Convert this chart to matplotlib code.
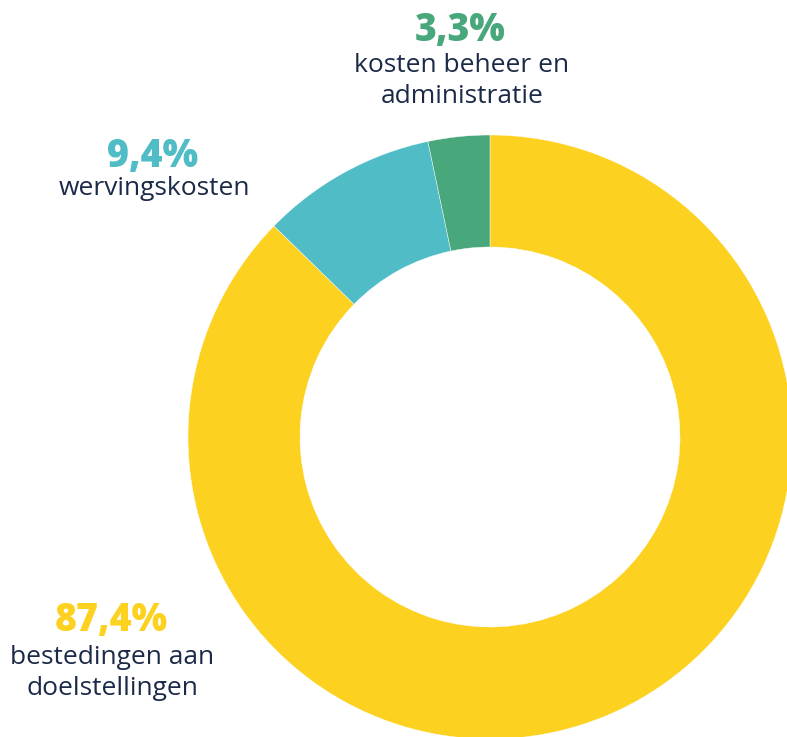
import matplotlib
matplotlib.use("Agg")
import matplotlib.pyplot as plt

# data
labels = ["bestedingen aan\ndoelstellingen", "wervingskosten", "kosten beheer en\nadministratie"]
pct_labels = ["87,4%", "9,4%", "3,3%"]
values = [87.4, 9.4, 3.3]
colors = ["#FDD11F", "#50BCC5", "#49A87B"]
text_color = "#1B2A47"

W, H = 787, 737
fig = plt.figure(figsize=(W / 100, H / 100), dpi=100)
ax = fig.add_axes([0, 0, 1, 1])

# donut, center/radius in pixel units
cx, cy, r = 490, H - 437, 302
ax.pie(values, colors=colors, startangle=90, counterclock=False,
       center=(cx, cy), radius=r,
       wedgeprops=dict(width=r - 190, edgecolor="white", linewidth=0.3),
       frame=True)
ax.set_xlim(0, W)
ax.set_ylim(0, H)
ax.set_aspect("equal")
ax.axis("off")

# label positions (pixels, top-down)
pct_pos = [(111, 621), (153, 156), (460, 30)]
txt_pos = [(112, 673), (154, 188), (462, 81)]

for i in range(len(values)):
    px, py = pct_pos[i]
    ax.text(px, H - py, pct_labels[i], color=colors[i], fontsize=27,
            fontweight="black", family="Open Sans",
            ha="center", va="center")
    tx, ty = txt_pos[i]
    ax.text(tx, H - ty, labels[i], color=text_color, fontsize=19,
            family="Open Sans", ha="center", va="center", linespacing=1.3)

fig.savefig("out.png", dpi=100)
